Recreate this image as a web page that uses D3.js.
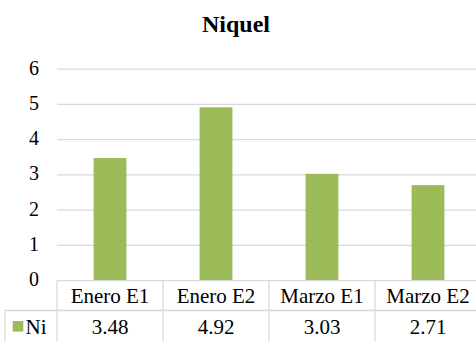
<!DOCTYPE html>
<html><head><meta charset="utf-8">
<script src="https://cdn.jsdelivr.net/npm/d3@7"></script>
<style>body{margin:0;background:#fff}svg{display:block}
svg text{font-family:"Liberation Serif","Times New Roman",Times,"DejaVu Serif",serif;}</style>
</head><body>
<script>
const categories = ["Enero E1", "Enero E2", "Marzo E1", "Marzo E2"];
const seriesName = "Ni";
const values = [3.48, 4.92, 3.03, 2.71];
const valueLabels = ["3.48", "4.92", "3.03", "2.71"];
const yTicks = [0, 1, 2, 3, 4, 5, 6];

const W = 476, H = 341;
const svg = d3.select("body").append("svg").attr("width", W).attr("height", H);
const grid = "#D9D9D9";
const barColor = "#9BBB59";

const x = d3.scaleBand().domain(categories).range([57, 481]).paddingInner(0).paddingOuter(0);
const y = d3.scaleLinear().domain([0, 6]).range([280.6, 69.2]);

svg.append("text").attr("x", 236).attr("y", 32).attr("text-anchor", "middle")
  .attr("font-weight", "bold").attr("font-size", 24).text("Niquel");

// gridlines
svg.append("g").selectAll("line").data(yTicks.filter(d => d > 0)).join("line")
  .attr("x1", 57).attr("x2", W).attr("y1", d => y(d)).attr("y2", d => y(d))
  .attr("stroke", grid).attr("stroke-width", 1.3);

// y tick labels
svg.append("g").selectAll("text").data(yTicks).join("text")
  .attr("x", 39).attr("y", d => y(d) + 1).attr("text-anchor", "end")
  .attr("dominant-baseline", "middle").attr("font-size", 20)
  .attr("fill", "#000").text(d => d);

// bars
const bw = x.bandwidth() * 0.31;
svg.append("g").selectAll("rect").data(values).join("rect")
  .attr("x", (d, i) => x(categories[i]) + x.bandwidth() / 2 - bw / 2)
  .attr("width", bw)
  .attr("y", d => y(d)).attr("height", d => y(0) - y(d))
  .attr("fill", barColor);

// data table
const rowTop = y(0), rowMid = 310.5, rowBot = 345;
const t = svg.append("g").attr("stroke", grid).attr("stroke-width", 1.3);
t.append("line").attr("x1", 57).attr("x2", W).attr("y1", rowTop).attr("y2", rowTop);
t.append("line").attr("x1", 5).attr("x2", W).attr("y1", rowMid).attr("y2", rowMid);
t.append("line").attr("x1", 5).attr("x2", 5).attr("y1", rowMid).attr("y2", rowBot);
t.selectAll("line.v").data(categories).join("line").attr("class", "v")
  .attr("x1", d => x(d)).attr("x2", d => x(d)).attr("y1", rowTop).attr("y2", rowBot);

svg.append("g").selectAll("text").data(categories).join("text")
  .attr("x", d => x(d) + x.bandwidth() / 2).attr("y", 302.5).attr("text-anchor", "middle")
  .attr("font-size", 21).text(d => d);

svg.append("g").selectAll("text").data(valueLabels).join("text")
  .attr("x", (d, i) => x(categories[i]) + x.bandwidth() / 2).attr("y", 333.5).attr("text-anchor", "middle")
  .attr("font-size", 21).text(d => d);

svg.append("rect").attr("x", 12.7).attr("y", 321).attr("width", 10.6).attr("height", 10.6).attr("fill", barColor);
svg.append("text").attr("x", 25.5).attr("y", 333.5).attr("font-size", 21).text(seriesName);
</script>
</body></html>
